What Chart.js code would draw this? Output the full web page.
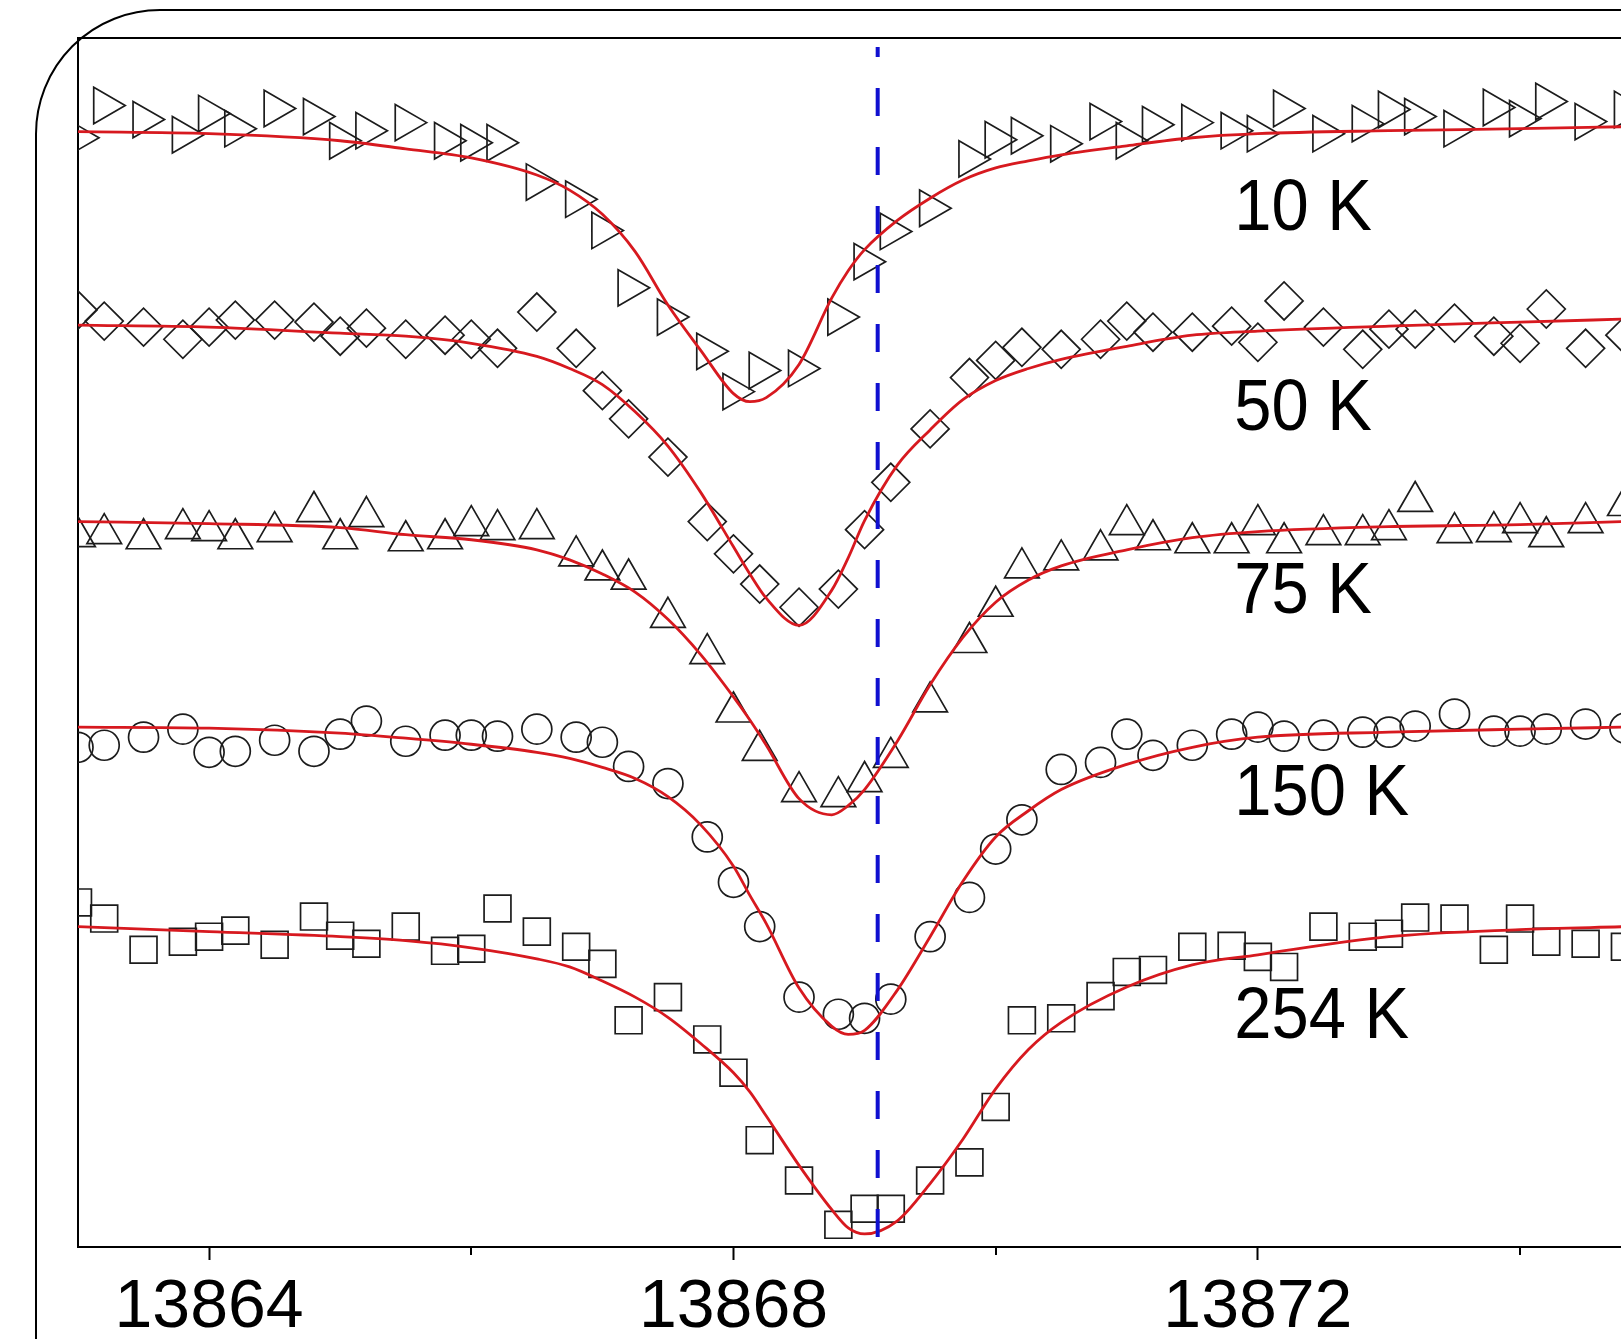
<!DOCTYPE html>
<html>
<head>
<meta charset="utf-8">
<script src="https://cdn.jsdelivr.net/npm/chart.js@4.4.0/dist/chart.umd.min.js"></script>
<style>
  html, body { margin: 0; padding: 0; background: #fff; }
  #wrap { position: relative; width: 1621px; height: 1339px; overflow: hidden; }
</style>
</head>
<body>
<div id="wrap"><canvas id="spectra"></canvas></div>
<script>
// wavenumber (cm-1) of the measured points, same for every temperature
var waveNumbers = [
  13863.0, 13863.2, 13863.5, 13863.8, 13864.0, 13864.2, 13864.5, 13864.8,
  13865.0, 13865.2, 13865.5, 13865.8, 13866.0, 13866.2, 13866.5, 13866.8,
  13867.0, 13867.2, 13867.5, 13867.8, 13868.0, 13868.2, 13868.5, 13868.8,
  13869.0, 13869.2, 13869.5, 13869.8, 13870.0, 13870.2, 13870.5, 13870.8,
  13871.0, 13871.2, 13871.5, 13871.8, 13872.0, 13872.2, 13872.5, 13872.8,
  13873.0, 13873.2, 13873.5, 13873.8, 13874.0, 13874.2, 13874.5, 13874.8
];

// measured intensity, arb. units, curves offset vertically
var data10 = [11.01, 11.33, 11.19, 11.04, 11.25, 11.10, 11.30, 11.22, 10.98, 11.08, 11.16, 10.98,
  10.96, 10.96, 10.57, 10.40, 10.09, 9.52, 9.23, 8.89, 8.49, 8.70, 8.72, 9.23,
  9.78, 10.08, 10.31, 10.80, 10.99, 11.03, 10.95, 11.17, 10.98, 11.14, 11.16, 11.08,
  11.05, 11.30, 11.05, 11.15, 11.29, 11.22, 11.10, 11.31, 11.20, 11.37, 11.17, 11.29];
var data50 = [9.30, 9.19, 9.13, 9.01, 9.13, 9.20, 9.20, 9.18, 9.04, 9.12, 9.01, 9.05,
  9.01, 8.92, 9.28, 8.92, 8.50, 8.22, 7.84, 7.20, 6.88, 6.58, 6.35, 6.53,
  7.12, 7.59, 8.12, 8.63, 8.80, 8.93, 8.91, 9.01, 9.19, 9.08, 9.08, 9.14,
  8.98, 9.39, 9.13, 8.91, 9.11, 9.11, 9.17, 9.04, 8.97, 9.31, 8.92, 9.05];
var data75 = [7.05, 7.08, 7.03, 7.13, 7.11, 7.03, 7.10, 7.30, 7.03, 7.25, 7.01, 7.03,
  7.16, 7.12, 7.13, 6.86, 6.72, 6.63, 6.25, 5.89, 5.31, 4.93, 4.52, 4.47,
  4.62, 4.86, 5.41, 6.00, 6.36, 6.74, 6.82, 6.92, 7.17, 7.02, 6.99, 6.99,
  7.17, 6.99, 7.07, 7.07, 7.12, 7.40, 7.09, 7.10, 7.19, 7.05, 7.19, 7.36];
var data150 = [4.96, 4.98, 5.06, 5.14, 4.91, 4.92, 5.03, 4.92, 5.09, 5.22, 5.02, 5.08,
  5.08, 5.07, 5.14, 5.06, 5.01, 4.77, 4.60, 4.07, 3.62, 3.18, 2.48, 2.31,
  2.27, 2.46, 3.08, 3.47, 3.95, 4.24, 4.74, 4.81, 5.09, 4.88, 4.98, 5.09,
  5.16, 5.07, 5.08, 5.11, 5.11, 5.17, 5.29, 5.12, 5.12, 5.14, 5.19, 5.15];
var data254 = [3.42, 3.26, 2.95, 3.03, 3.08, 3.14, 3.00, 3.28, 3.09, 3.01, 3.18, 2.94,
  2.96, 3.36, 3.13, 2.98, 2.81, 2.25, 2.48, 2.06, 1.73, 1.06, 0.66, 0.22,
  0.38, 0.38, 0.66, 0.84, 1.39, 2.25, 2.27, 2.49, 2.73, 2.75, 2.98, 2.99,
  2.88, 2.78, 3.18, 3.08, 3.11, 3.27, 3.26, 2.95, 3.26, 3.03, 3.01, 2.98];

// fitted line shapes
var fitWave = [13863, 13864, 13865, 13865.5, 13866, 13866.5, 13866.75, 13867, 13867.25, 13867.5,
  13867.75, 13868, 13868.125, 13868.25, 13868.5, 13868.75, 13868.875, 13869, 13869.25, 13869.5,
  13869.75, 13870, 13870.25, 13870.5, 13871, 13871.5, 13872, 13873, 13874, 13874.8];
var fit10 = [11.07, 11.05, 10.98, 10.90, 10.81, 10.64, 10.49, 10.25, 9.88, 9.35,
  8.90, 8.47, 8.39, 8.43, 8.76, 9.42, 9.69, 9.90, 10.19, 10.41,
  10.59, 10.71, 10.78, 10.84, 10.93, 11.01, 11.05, 11.08, 11.10, 11.12];
var fit50 = [9.15, 9.13, 9.07, 9.04, 8.97, 8.84, 8.72, 8.56, 8.29, 7.95,
  7.49, 6.95, 6.68, 6.44, 6.17, 6.52, 6.84, 7.21, 7.76, 8.11,
  8.41, 8.60, 8.72, 8.81, 8.94, 9.05, 9.09, 9.14, 9.18, 9.21];
var fit75 = [7.20, 7.18, 7.14, 7.07, 7.02, 6.92, 6.82, 6.68, 6.50, 6.23,
  5.88, 5.46, 5.23, 4.98, 4.45, 4.29, 4.38, 4.54, 5.02, 5.58,
  6.05, 6.40, 6.62, 6.76, 6.92, 7.04, 7.10, 7.15, 7.17, 7.20];
var fit150 = [5.16, 5.15, 5.10, 5.05, 4.99, 4.91, 4.85, 4.76, 4.65, 4.47,
  4.19, 3.78, 3.49, 3.21, 2.57, 2.19, 2.11, 2.15, 2.55, 3.08,
  3.63, 4.07, 4.33, 4.54, 4.79, 4.96, 5.06, 5.11, 5.14, 5.16];
var fit254 = [3.18, 3.13, 3.08, 3.04, 2.97, 2.86, 2.78, 2.64, 2.48, 2.28,
  2.02, 1.73, 1.54, 1.30, 0.81, 0.37, 0.19, 0.13, 0.26, 0.63,
  1.07, 1.57, 1.96, 2.23, 2.58, 2.80, 2.90, 3.08, 3.15, 3.18];

var temperatures = ["10 K", "50 K", "75 K", "150 K", "254 K"];
var labelLevels = [10.09, 8.11, 6.29, 4.29, 2.07];
var labelWave = 13871.82;
var lineCenter = 13869.1;
var majorTicks = [13864, 13868, 13872];

var measured = [data10, data50, data75, data150, data254];
var fits = [fit10, fit50, fit75, fit150, fit254];
var markers = [
  { style: 'triangle', rotation: 90, radius: 21 },
  { style: 'rectRot', rotation: 0, radius: 19 },
  { style: 'triangle', rotation: 0, radius: 20 },
  { style: 'circle', rotation: 0, radius: 15 },
  { style: 'rect', rotation: 0, radius: 19 }
];

function pairs(xs, ys) {
  return xs.map(function (x, i) { return { x: x, y: ys[i] }; });
}

var datasets = [];
temperatures.forEach(function (t, i) {
  datasets.push({
    label: t + ' fit',
    data: pairs(fitWave, fits[i]),
    borderColor: '#d7191f',
    borderWidth: 2.8,
    pointRadius: 0,
    fill: false,
    cubicInterpolationMode: 'monotone',
    order: 0
  });
  datasets.push({
    label: t,
    data: pairs(waveNumbers, measured[i]),
    showLine: false,
    pointStyle: markers[i].style,
    pointRotation: markers[i].rotation,
    pointRadius: markers[i].radius,
    pointBorderWidth: 1.7,
    pointBorderColor: '#1c1c1c',
    pointBackgroundColor: 'rgba(0,0,0,0)',
    order: 1
  });
});

var decorations = {
  id: 'decorations',
  beforeDraw: function (chart) {
    var ctx = chart.ctx, w = chart.width, h = chart.height, r = 124;
    ctx.save();
    ctx.fillStyle = '#fff';
    ctx.fillRect(0, 0, w, h);
    ctx.strokeStyle = '#000';
    ctx.lineWidth = 2;
    ctx.beginPath();
    ctx.moveTo(36, h);
    ctx.lineTo(36, 10 + r);
    ctx.arcTo(36, 10, 36 + r, 10, r);
    ctx.lineTo(w, 10);
    ctx.stroke();
    ctx.restore();
  },
  beforeDatasetsDraw: function (chart) {
    var ctx = chart.ctx, a = chart.chartArea, xs = chart.scales.x;
    ctx.save();
    ctx.strokeStyle = '#000';
    ctx.lineWidth = 2;
    ctx.beginPath();
    ctx.moveTo(a.left - 1, a.top);
    ctx.lineTo(a.right, a.top);
    // short minor ticks below the axis
    xs.ticks.forEach(function (t) {
      if (majorTicks.indexOf(t.value) < 0) {
        var px = Math.round(xs.getPixelForValue(t.value));
        ctx.moveTo(px, a.bottom);
        ctx.lineTo(px, a.bottom + 8);
      }
    });
    ctx.stroke();
    ctx.restore();
  },
  afterDatasetsDraw: function (chart) {
    var ctx = chart.ctx, a = chart.chartArea;
    var xs = chart.scales.x, ys = chart.scales.y;
    var px = xs.getPixelForValue(lineCenter);
    ctx.save();
    ctx.strokeStyle = '#1010d0';
    ctx.lineWidth = 4;
    ctx.setLineDash([28, 31]);
    ctx.lineDashOffset = 18;
    ctx.beginPath();
    ctx.moveTo(px, a.top + 9);
    ctx.lineTo(px, a.bottom);
    ctx.stroke();
    ctx.restore();

    ctx.save();
    ctx.fillStyle = '#000';
    ctx.font = '72px "Liberation Sans", Arial, sans-serif';
    ctx.textBaseline = 'alphabetic';
    ctx.textAlign = 'left';
    temperatures.forEach(function (t, i) {
      ctx.save();
      ctx.translate(xs.getPixelForValue(labelWave), ys.getPixelForValue(labelLevels[i]));
      ctx.scale(0.93, 1);
      ctx.fillText(t, 0, 0);
      ctx.restore();
    });
    ctx.restore();
  }
};

Chart.defaults.font.family = '"Liberation Sans", Arial, sans-serif';

new Chart(document.getElementById('spectra').getContext('2d'), {
  type: 'line',
  data: { datasets: datasets },
  options: {
    responsive: true,
    maintainAspectRatio: false,
    devicePixelRatio: 1,
    animation: false,
    events: [],
    layout: { autoPadding: false, padding: { left: 0, right: 0, top: 38, bottom: 0 } },
    plugins: {
      legend: { display: false },
      tooltip: { enabled: false }
    },
    scales: {
      x: {
        type: 'linear',
        min: 13863,
        max: 13874.77,
        afterFit: function (s) { s.height = 92; },
        ticks: {
          stepSize: 2,
          includeBounds: false,
          autoSkip: false,
          maxRotation: 0,
          padding: 7,
          color: '#000',
          font: { size: 68 },
          callback: function (v) { return majorTicks.indexOf(v) >= 0 ? String(v) : ''; }
        },
        grid: {
          display: true,
          drawOnChartArea: false,
          tickLength: 13,
          tickWidth: 2,
          tickColor: function (c) {
            return c.tick && majorTicks.indexOf(c.tick.value) >= 0 ? '#000' : 'rgba(0,0,0,0)';
          }
        },
        border: { display: true, color: '#000', width: 2 }
      },
      y: {
        min: 0,
        max: 12,
        afterFit: function (s) { s.width = 78; },
        ticks: { display: false },
        grid: { display: false },
        border: { display: true, color: '#000', width: 2 }
      }
    }
  },
  plugins: [decorations]
});
</script>
</body>
</html>
